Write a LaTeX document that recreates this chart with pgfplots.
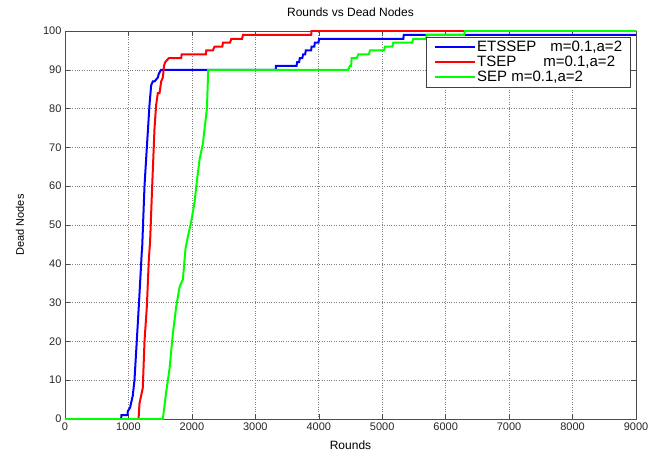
\documentclass[border=0pt]{standalone}
\usepackage{fontspec}
\setmainfont{Liberation Sans}
\usepackage{pgfplots}
\pgfplotsset{compat=1.18}
\begin{document}
\begin{tikzpicture}
\begin{axis}[
    width=571pt, height=388pt, scale only axis,
    xmin=0, xmax=9000, ymin=0, ymax=100,
    xtick={0,1000,...,9000}, ytick={0,10,...,100},
    scaled x ticks=false,
    /pgf/number format/assume math mode=true,
    /pgf/number format/1000 sep={},
    tick align=inside, tick pos=both,
    major tick length=5pt,
    tick style={black!70, line width=0.5pt},
    axis line style={black!70, line width=0.6pt},
    grid=major,
    major grid style={dotted, black!50, line width=0.6pt},
    ticklabel style={font=\fontsize{11}{13}\selectfont, text=black!85},
    title={Rounds vs Dead Nodes},
    title style={at={(axis description cs:0.5,1.0335)}, anchor=center, font=\fontsize{12}{14}\selectfont},
    xlabel={Rounds},
    xlabel style={at={(axis description cs:0.5,-0.067)}, anchor=center, font=\fontsize{12}{14}\selectfont},
    ylabel={Dead Nodes},
    ylabel style={at={(axis description cs:-0.079,0.5)}, anchor=center, font=\fontsize{11}{13}\selectfont},
    legend style={at={(1,1)}, xshift=-5pt, yshift=-6pt, anchor=north east,
        draw=black!75, line width=0.6pt, font=\fontsize{15}{16}\selectfont,
        cells={anchor=west}, inner xsep=7pt, inner ysep=2pt,
        nodes={inner sep=1.6pt}},
    legend image code/.code={\draw[#1] (0pt,0pt) -- (40pt,0pt);},
]
\addplot[blue, line width=2pt] coordinates {
(0,0) (884,0) (890,1) (985,1) (990,2) (1027,3) (1040,4) (1068,6) (1095,10)
(1131,20) (1163,29) (1190,37) (1210,43) (1216,44) (1253,60) (1290,70)
(1332,81) (1358,86) (1384,87) (1411,87) (1463,88) (1479,89) (1516,90)
(3322,90) (3325,91) (3649,91) (3660,92) (3690,92) (3700,93) (3740,93)
(3754,94) (3785,94) (3796,95) (3880,95) (3886,96) (3930,96) (3938,97)
(3995,97) (4006,98) (5333,98) (5340,99) (9000,99)
};
\addlegendentry{ETSSEP\hspace{14pt}m=0.1,a=2}
\addplot[red, line width=2pt] coordinates {
(0,0) (1160,0) (1163,1) (1174,4) (1226,8) (1253,20) (1290,29) (1321,41)
(1342,46) (1374,60) (1411,75) (1437,81) (1463,84) (1490,84) (1516,87)
(1542,88) (1560,91) (1580,92) (1637,93) (1830,93) (1840,94) (2220,94)
(2227,95) (2330,95) (2358,96) (2480,96) (2490,97) (2600,97) (2622,98)
(2790,98) (2806,99) (3880,99) (3886,100) (9000,100)
};
\addlegendentry{TSEP\hspace{27pt}m=0.1,a=2}
\addplot[green, line width=2pt] coordinates {
(0,0) (1542,0) (1595,7) (1648,13) (1700,22) (1753,29) (1806,34) (1858,36)
(1900,44) (1937,47) (1990,51) (2043,56) (2069,60) (2122,67) (2174,71)
(2201,75) (2237,80) (2253,88) (2255,90) (4465,90) (4491,91) (4510,91)
(4518,93) (4600,93) (4623,94) (4790,94) (4807,95) (5030,95) (5044,96)
(5160,96) (5175,97) (5470,97) (5491,98) (5690,98) (5700,99) (6290,99)
(6303,100) (9000,100)
};
\addlegendentry{SEP m=0.1,a=2}
\end{axis}
\path ([xshift=-65pt,yshift=-34pt]current axis.south west) rectangle ([xshift=32pt,yshift=31pt]current axis.north east);
\end{tikzpicture}
\end{document}
